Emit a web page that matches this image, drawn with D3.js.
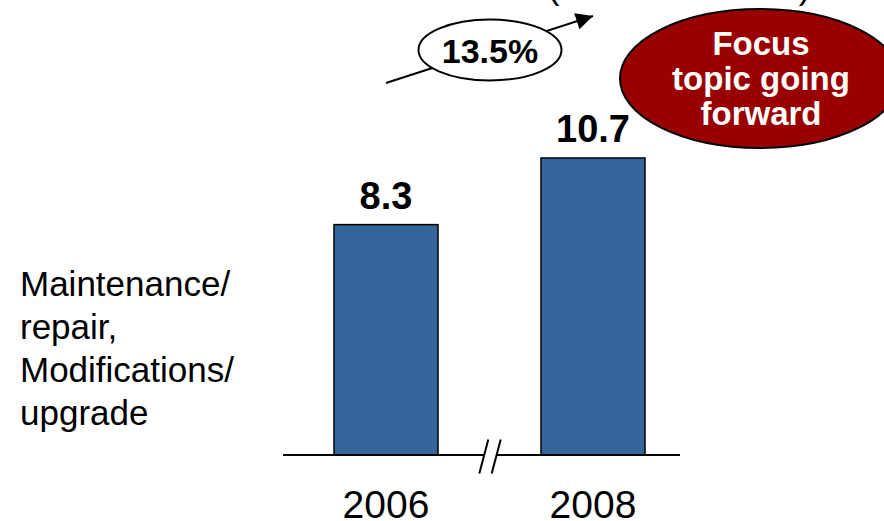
<!DOCTYPE html>
<html><head><meta charset="utf-8">
<script src="https://cdn.jsdelivr.net/npm/d3@7"></script>
<style>html,body{margin:0;padding:0;background:#fff;}svg{display:block;}</style>
</head><body>
<script>
const categories = ["2006", "2008"];
const values = [8.3, 10.7];
const valueLabels = ["8.3", "10.7"];
const rowLabel = ["Maintenance/", "repair,", "Modifications/", "upgrade"];
const growthLabel = "13.5%";
const focusLabel = ["Focus", "topic going", "forward"];
const topNote = "(CAGR 2006-08)";

const W = 884, H = 521;
const svg = d3.select("body").append("svg").attr("width", W).attr("height", H);
const font = "Liberation Sans, Arial, Helvetica, sans-serif";

const x = d3.scalePoint().domain(categories).range([386, 593]);
const y = d3.scaleLinear().domain([0, 10.7]).range([455, 158]);
const bw = 104;

// partially visible top note (only the bottoms of the brackets show)
svg.append("text").attr("x", 679).attr("y", -1).attr("text-anchor", "middle")
  .attr("font-family", font).attr("font-size", 35)
  .text(topNote);

// bars
svg.selectAll("rect.bar").data(values).join("rect").attr("class", "bar")
  .attr("x", (d, i) => x(categories[i]) - bw / 2)
  .attr("width", bw)
  .attr("y", d => y(d))
  .attr("height", d => y(0) - y(d))
  .attr("fill", "#35669b").attr("stroke", "#000").attr("stroke-width", 1.5);

// value labels
svg.selectAll("text.val").data(values).join("text").attr("class", "val")
  .attr("x", (d, i) => x(categories[i]))
  .attr("y", d => y(d) - 16)
  .attr("text-anchor", "middle").attr("font-family", font).attr("font-weight", "bold")
  .attr("font-size", 38).attr("fill", "#000")
  .text((d, i) => valueLabels[i]);

// baseline with break
const y0 = y(0);
svg.append("line").attr("x1", 283).attr("x2", 484).attr("y1", y0).attr("y2", y0)
  .attr("stroke", "#000").attr("stroke-width", 2);
svg.append("line").attr("x1", 497).attr("x2", 680).attr("y1", y0).attr("y2", y0)
  .attr("stroke", "#000").attr("stroke-width", 2);
[[479.3, 473.5, 488.3, 439.5], [491.7, 473.5, 500.7, 439.5]].forEach(s => {
  svg.append("line").attr("x1", s[0]).attr("y1", s[1]).attr("x2", s[2]).attr("y2", s[3])
    .attr("stroke", "#000").attr("stroke-width", 2);
});

// category labels
svg.selectAll("text.cat").data(categories).join("text").attr("class", "cat")
  .attr("x", d => x(d)).attr("y", 518)
  .attr("text-anchor", "middle").attr("font-family", font).attr("font-size", 39)
  .attr("fill", "#000").text(d => d);

// row label
svg.append("text").attr("font-family", font).attr("font-size", 35).attr("fill", "#000")
  .selectAll("tspan").data(rowLabel).join("tspan")
  .attr("x", 20).attr("y", (d, i) => 296 + i * 43).text(d => d);

// growth arrow
const defs = svg.append("defs");
defs.append("marker").attr("id", "ah").attr("viewBox", "0 0 10 10")
  .attr("refX", 10).attr("refY", 5)
  .attr("markerUnits", "userSpaceOnUse").attr("orient", "auto")
  .attr("markerWidth", 22).attr("markerHeight", 17)
  .append("path").attr("d", "M0,0 L10,5 L0,10 Z").attr("fill", "#000");
svg.append("line").attr("x1", 386).attr("y1", 83).attr("x2", 593).attr("y2", 16)
  .attr("stroke", "#000").attr("stroke-width", 2).attr("marker-end", "url(#ah)");
svg.append("ellipse").attr("cx", 490).attr("cy", 50).attr("rx", 71.5).attr("ry", 30.5)
  .attr("fill", "#fff").attr("stroke", "#000").attr("stroke-width", 2);
svg.append("text").attr("x", 490).attr("y", 63).attr("text-anchor", "middle")
  .attr("font-family", font).attr("font-weight", "bold").attr("font-size", 34)
  .attr("fill", "#000").text(growthLabel);

// focus ellipse
svg.append("ellipse").attr("cx", 760).attr("cy", 78.5).attr("rx", 140).attr("ry", 69.5)
  .attr("fill", "#990000").attr("stroke", "#000").attr("stroke-width", 2);
svg.append("text").attr("font-family", font).attr("font-weight", "bold").attr("font-size", 33)
  .attr("fill", "#fff").attr("text-anchor", "middle")
  .selectAll("tspan").data(focusLabel).join("tspan")
  .attr("x", 761).attr("y", (d, i) => 55 + i * 35).text(d => d);
</script>
</body></html>
